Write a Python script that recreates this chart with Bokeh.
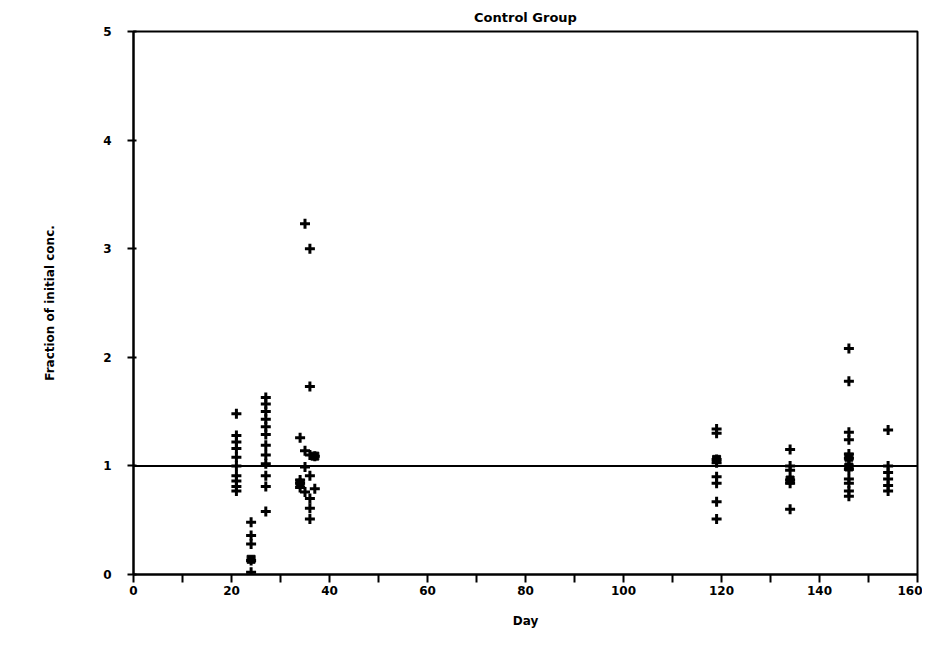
from bokeh.plotting import figure
from bokeh.models import Range1d, Span, FixedTicker, ColumnDataSource
from bokeh.embed import file_html
from bokeh.resources import INLINE

# ---- data ----
title_text = "Control Group"
x_label = "Day"
y_label = "Fraction of initial conc."
x_ticks = [0, 20, 40, 60, 80, 100, 120, 140, 160]
x_minor = [10, 30, 50, 70, 90, 110, 130, 150]
y_ticks = [0, 1, 2, 3, 4, 5]
reference_level = 1.0

day21 = [1.48, 1.28, 1.22, 1.16, 1.08, 1.0, 0.91, 0.86, 0.81, 0.77]
day24 = [0.48, 0.36, 0.28, 0.13, 0.02]
day27 = [1.63, 1.57, 1.50, 1.43, 1.36, 1.29, 1.19, 1.10, 1.02, 0.91, 0.81, 0.58]
day34 = [1.26, 0.87, 0.84, 0.80]
day35 = [3.23, 1.14, 0.99, 0.76]
day36 = [3.00, 1.73, 1.10, 0.91, 0.70, 0.61, 0.51]
day37 = [1.09, 0.79]
day119 = [1.34, 1.30, 1.06, 1.03, 0.90, 0.84, 0.67, 0.51]
day134 = [1.15, 1.00, 0.96, 0.87, 0.84, 0.60]
day146 = [2.08, 1.78, 1.31, 1.24, 1.11, 1.07, 1.00, 0.97, 0.88, 0.84, 0.77, 0.72]
day154 = [1.33, 1.00, 0.94, 0.88, 0.82, 0.77]

groups = {21: day21, 24: day24, 27: day27, 34: day34, 35: day35, 36: day36,
          37: day37, 119: day119, 134: day134, 146: day146, 154: day154}

# overlapping points that print as solid blobs
blob_days = [24, 34, 37, 119, 134, 146, 146]
blob_vals = [0.14, 0.84, 1.09, 1.06, 0.87, 1.08, 0.99]

xs, ys = [], []
for d, vals in groups.items():
    xs += [d] * len(vals)
    ys += vals
src = ColumnDataSource(dict(x=xs, y=ys))
blob_src = ColumnDataSource(dict(x=blob_days, y=blob_vals))

FONT = "DejaVu Sans"

p = figure(width=922, height=644, output_backend="svg", toolbar_location=None,
           x_range=Range1d(0, 160), y_range=Range1d(0, 5),
           min_border_left=133, min_border_right=5, min_border_top=31,
           min_border_bottom=70, background_fill_color="white",
           border_fill_color="white")

p.title.text = title_text
p.title.align = "center"
p.title.text_font = FONT
p.title.text_font_size = "13px"
p.title.text_font_style = "bold"
p.title.text_color = "black"
p.title.standoff = 14

p.xgrid.visible = False
p.ygrid.visible = False
p.outline_line_color = "black"
p.outline_line_width = 2

p.xaxis.ticker = FixedTicker(ticks=x_ticks, minor_ticks=x_minor)
p.yaxis.ticker = FixedTicker(ticks=y_ticks)
p.xaxis.axis_label = x_label
p.yaxis.axis_label = y_label

for ax in (p.xaxis, p.yaxis):
    ax.axis_line_width = 2
    ax.axis_line_color = "black"
    ax.major_tick_line_width = 2
    ax.minor_tick_line_width = 2
    ax.major_tick_line_color = "black"
    ax.minor_tick_line_color = "black"
    ax.major_label_text_font = FONT
    ax.major_label_text_font_size = "12px"
    ax.major_label_text_font_style = "bold"
    ax.major_label_text_color = "black"
    ax.axis_label_text_font = FONT
    ax.axis_label_text_font_size = "12px"
    ax.axis_label_text_font_style = "bold"
    ax.axis_label_text_color = "black"

p.xaxis.major_tick_out = 8
p.xaxis.major_tick_in = 0
p.xaxis.minor_tick_out = 8
p.xaxis.minor_tick_in = 0
p.xaxis.major_label_standoff = 3
p.xaxis.axis_label_standoff = 16

p.yaxis.major_tick_out = 6
p.yaxis.major_tick_in = 3
p.yaxis.minor_tick_out = 0
p.yaxis.minor_tick_in = 0
p.yaxis.major_label_standoff = 16
p.yaxis.axis_label_standoff = 43

p.add_layout(Span(location=reference_level, dimension="width",
                  line_color="black", line_width=2))

p.scatter("x", "y", source=src, marker="cross", size=10,
          line_color="black", line_width=3)
p.scatter("x", "y", source=blob_src, marker="square", size=8,
          fill_color="black", line_color="black")

open("out.html", "w").write(file_html(p, INLINE))
